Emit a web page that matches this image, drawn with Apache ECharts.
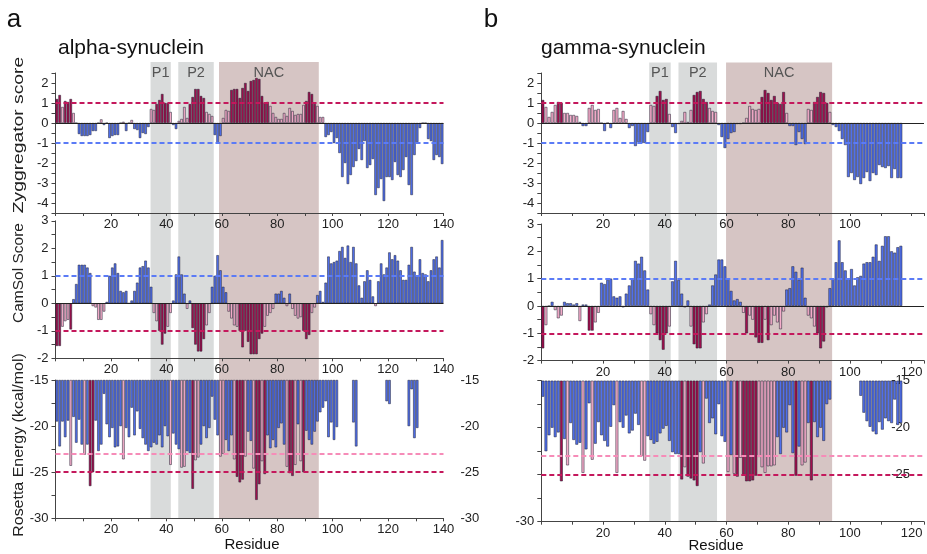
<!DOCTYPE html>
<html><head><meta charset="utf-8">
<script src="https://cdn.jsdelivr.net/npm/echarts@6/dist/echarts.min.js"></script>
<style>html,body{margin:0;padding:0;background:#fff}#c{width:927px;height:554px}</style>
</head><body><div id="c"></div>
<script>
// ---------------- data ----------------
const alphaZyg = [
 1.2,1.4,0.8,1.1,1.05,1.2,0.5,0.0,
 -0.55,-0.65,-0.65,-0.65,-0.6,-0.4,-0.4,0.0,
 0.18,-0.1,0.0,-0.75,-0.65,-0.6,-0.6,0.0,
 0.06,-0.4,0.0,0.15,-0.3,-0.35,-0.75,-0.5,
 -0.55,-0.2,
 0.7,0.65,0.95,1.15,1.45,1.0,1.0,0.55,
 -0.1,-0.3,
 0.1,0.2,0.8,0.25,0.95,1.3,1.7,1.7,1.35,1.25,0.55,0.45,0.35,
 -0.6,-1.0,-0.65,
 0.25,0.65,0.6,
 1.65,1.7,1.7,1.25,1.75,2.0,1.6,2.1,2.15,2.25,2.2,1.35,1.0,1.05,0.85,0.5,0.3,0.2,0.2,0.5,0.35,0.75,0.6,0.4,0.45,0.45,0.9,1.1,1.55,1.45,0.95,0.85,
 0.3,0.3,
 -0.7,-0.6,-0.45,-1.0,-0.75,-1.5,-2.7,-2.0,-3.05,-2.6,-2.2,-1.9,-1.3,-1.85,-0.9,-2.25,-2.1,-1.8,-3.6,-3.25,-2.8,-3.9,-2.7,-2.7,-2.85,-1.95,-2.6,-2.7,-2.35,-1.7,-3.1,-3.6,-1.6,-0.95,-0.25,0,0,-0.8,-0.9,-1.85,-1.6,-1.7,-2.05
];
const alphaCam = [
 -1.55,-1.55,-0.85,-0.65,-0.6,-0.95,
 0.15,0.7,1.4,1.4,1.4,1.3,1.1,
 -0.1,-0.15,-0.6,-0.6,-0.3,0.05,
 1.0,1.3,1.45,1.1,
 0.45,0.4,0.45,
 0.0,
 0.1,0.45,0.75,1.3,1.35,1.55,1.3,0.6,
 -0.35,-0.65,-1.0,-1.5,-1.1,-0.85,-0.35,
 0.1,1.05,1.7,1.05,0.35,
 -0.2,0.1,
 -0.9,-1.5,-1.75,-1.75,-1.3,-0.8,-0.35,
 0.6,1.0,1.75,1.2,0.6,0.4,
 -0.3,
 -0.55,-0.8,-0.85,-1.0,-1.6,-1.0,-1.4,-1.85,-1.85,-1.85,-1.3,-1.1,-0.85,-0.45,-0.35,-0.2,
 0.35,0.35,0.45,0.2,
 -0.1,0.35,
 -0.2,-0.45,-0.55,-0.5,-1.0,-1.3,-1.15,-0.35,-0.15,
 0.3,0.45,0.05,
 0.75,1.7,1.45,1.5,1.55,1.9,2.05,1.65,2.1,1.5,2.05,1.45,0.65,0.2,0.8,1.2,0.85,0.25,-0.1,0.8,1.45,1.05,1.3,1.85,1.6,1.75,1.55,1.2,0.85,0.85,1.4,2.05,1.15,1.0,1.6,1.1,1.05,0.8,1.2,1.6,1.7,1.3,2.3
];
const alphaRos = [
 -19.5,-22.2,-19.5,-21.2,-19.4,-24.3,-19.0,-21.8,-19.3,-22.0,
 -23.1,-22.0,-26.5,-25.0,-19.4,-22.7,-22.0,-16.5,-19.8,-21.2,
 -20.2,-22.3,-22.2,-20.0,-23.6,-20.2,-21.2,-18.0,-21.0,-18.4,
 -20.3,-21.3,-22.0,-22.7,-22.3,-21.8,-22.0,-21.0,-22.3,-20.0,
 -21.1,-24.2,-20.8,-22.0,-22.5,-24.5,-24.4,-22.7,-22.9,-26.8,
 -23.7,-23.4,-22.0,-20.0,-21.3,-20.2,-16.8,-19.3,-21.0,-23.3,
 -23.0,-21.5,-22.7,-21.0,-23.6,-25.5,-26.1,-25.8,-23.3,-20.6,
 -21.6,-24.6,-28.0,-26.3,-23.8,-25.2,-21.0,-22.4,-21.5,-22.3,
 -20.2,-19.7,-22.0,-24.4,-25.1,-25.4,-24.2,-19.8,-23.8,-25.0,
 -20.5,-21.5,-22.0,-20.6,-19.5,-18.5,-18.0,-17.3,-21.2,-19.6,
 -21.5,-20.1,null,null,null,null,null,-19.6,-22.2,null,
 null,null,null,null,null,null,null,null,null,-17.3,
 -17.6,null,null,null,null,null,null,-20.0,-16.0,-21.3,
 -20.2,null,null,null,null,null,null,null,null,null
];
const gammaZyg = [
 1.15,0.8,0.3,0.55,0.9,1.05,1.0,0.5,0.5,0.4,0.4,0.35,
 0.05,-0.15,-0.15,
 0.75,0.9,0.65,0.7,
 0.0,-0.4,0.0,-0.25,
 0.65,0.75,0.25,0.6,0.2,
 -0.25,-0.15,-1.15,-0.95,-1.0,-1.0,-0.45,
 0.9,0.85,1.35,1.6,1.15,1.2,0.45,
 -0.2,-0.5,
 -0.05,0.1,0.55,0.05,0.65,1.4,1.55,1.6,1.2,1.05,0.75,0.6,0.55,
 -0.1,-0.7,-1.25,-0.8,-0.5,-0.45,-0.05,
 -0.05,0.0,
 0.25,0.85,0.7,0.65,0.7,
 1.3,1.65,1.5,1.15,1.35,1.0,0.95,1.55,0.5,
 -0.15,-0.15,-1.1,-0.45,-0.8,-1.05,
 0.7,0.65,1.05,1.3,1.55,1.5,1.0,0.55,
 -0.1,-0.2,-0.4,-0.8,-1.1,-2.7,-2.5,-2.85,-2.7,-3.05,-2.75,-2.45,-2.9,-2.5,-2.6,-2.1,-2.2,-2.25,-2.15,-2.75,-2.3,-2.75,-2.75
];
const gammaCam = [
 -1.55,-0.7,0.0,0.15,-0.15,-0.45,-0.35,0.15,0.1,0.1,0.05,0.1,-0.55,0.05,0.05,-0.9,-0.9,-0.6,-0.25,
 0.85,0.8,0.95,1.0,
 0.35,0.3,0.35,
 -0.05,
 0.45,0.75,1.0,1.65,1.55,1.8,1.3,0.6,
 -0.3,-0.7,-1.0,-1.25,-1.6,-1.0,-0.75,
 0.9,1.65,0.95,0.45,
 -0.05,0.2,
 -0.75,-1.4,-1.55,-1.55,-0.6,-0.3,
 0.05,0.75,1.15,1.7,1.7,1.45,1.0,0.55,0.2,0.25,0.15,
 -0.25,-1.0,-0.35,-0.5,-1.15,-1.35,-1.35,-0.5,-1.25,-0.7,-0.35,-0.6,-0.85,-0.2,
 0.6,0.65,1.45,1.25,0.95,1.4,0.3,
 -0.35,-0.45,-0.75,-1.0,-1.55,-1.3,-0.05,
 0.65,1.0,1.6,2.4,1.6,1.3,1.0,1.35,0.75,1.05,1.1,1.55,1.6,1.6,1.8,2.25,1.65,2.2,2.55,2.55,2.0,1.95,2.15,2.2
];
const gammaRos = [
 -16.7,-22.5,-20.8,-20.0,-21.0,-20.5,-25.7,-21.2,-24.0,-19.5,
 -21.3,-21.8,-21.6,-24.8,-22.3,-17.4,-23.4,-21.7,-19.4,-20.8,
 -21.4,-22.0,-19.9,-17.6,-24.8,-19.4,-20.0,-18.7,-20.6,-20.3,
 -18.5,-19.7,-23.0,-23.5,-20.9,-21.3,-21.7,-21.5,-20.6,-20.1,
 -19.8,-21.4,-22.6,-22.8,-22.8,-25.5,-24.2,-25.2,-25.4,-25.6,
 -26.2,-22.6,-23.8,
 -16.9,-19.5,-19.0,-20.7,-17.5,-20.9,-21.5,-24.7,-22.9,-24.9,
 -25.2,-23.2,-25.0,-25.7,-25.7,-25.6,-25.1,-23.1,-24.2,-24.8,
 -24.1,-24.1,-24.0,
 -21.0,-22.8,-20.0,-20.5,-17.6,-22.7,-25.1,-22.0,-24.0,-23.7,
 -19.5,-25.6,-19.4,-21.0,-20.0,-21.4,-17.5,-17.0,
 null,null,null,null,null,null,null,null,null,
 -16.6,-18.4,-19.3,-19.9,-20.4,-20.7,-19.4,-20.2,-19.0,-19.3,-19.5,-17.0,-19.7,-19.5
];
// residue spans of the shaded regions
const alphaRegions = [['P1',34.3,41.6],['P2',44.3,57.1],['NAC',59.0,95.0]];
const gammaRegions = [['P1',34.7,41.6],['P2',44.1,56.5],['NAC',59.4,93.5]];
const alphaAxisMax = 140, gammaAxisMax = 124;
const zygThresholds = [1, -1], camThresholds = [1, -1], rosThresholds = [-23, -25];

// ---------------- styling ----------------
const FONT = '"Liberation Sans", Arial, sans-serif';
const BLUE = '#5070ec', DARK = '#a10f4d', PINK = '#f5adca', EDGE = '#1e1e30';
const L_RED = '#c4185c', L_BLUE = '#5b7bf6', L_PINK = '#f68cb8';
const GRAY_SHADE = '#d9dbdb', NAC_SHADE = '#d6c5c4';

const zygColor = v => v < 0 ? BLUE : (v >= 0.95 ? DARK : PINK);
const camColor = v => v >= 0 ? BLUE : (v <= -0.9 ? DARK : PINK);
const rosColor = v => v > -23 ? BLUE : (v > -25 ? PINK : DARK);

function pad(arr, n){ const a = arr.slice(); while (a.length < n) a.push(null); return a; }
function cats(n){ const a=[]; for(let i=1;i<=n;i++) a.push(String(i)); return a; }
const isInt = v => Math.abs(v - Math.round(v)) < 1e-9;
const isFive = v => Math.abs(v/5 - Math.round(v/5)) < 1e-9;

const grids=[], xAxes=[], yAxes=[], series=[];
const lbl = {fontSize:13, color:'#222', fontFamily:FONT};

function bgPanel(left,width,top,height,max,regions){
  const gi = grids.length;
  grids.push({left,width,top,height});
  const xi = xAxes.length;
  xAxes.push({type:'value', gridIndex:gi, min:0, max:max, show:false});
  const yi = yAxes.length;
  yAxes.push({type:'value', gridIndex:gi, min:0, max:1, show:false});
  series.push({type:'line', xAxisIndex:xi, yAxisIndex:yi, data:[[0,0]], showSymbol:false, silent:true, z:0,
    lineStyle:{width:0, opacity:0},
    markArea:{silent:true, z:0, data: regions.map(r => [
      {xAxis:r[1], name:r[0], itemStyle:{color: r[0]==='NAC'?NAC_SHADE:GRAY_SHADE, opacity:1}, label:{show:true, position:'insideTop', distance:3, color:'#555', fontSize:14.5, fontFamily:FONT}},
      {xAxis:r[2]}])}});
}

function panel(o){
  const gi = grids.length;
  grids.push({left:o.left, width:o.width, top:o.top, height:o.height});
  const xv = xAxes.length;
  xAxes.push({type:'value', gridIndex:gi, min:0, max:o.max, interval:10, position:'bottom',
    axisLine:{onZero:false, lineStyle:{color:'#444', width:1}}, axisTick:{length:3, lineStyle:{color:'#444'}},
    splitLine:{show:false},
    axisLabel:Object.assign({margin:5, formatter: v => (v>0 && v%20===0 && v<=o.xLabelMax) ? String(v) : ''}, lbl)});
  const xc = xAxes.length;
  xAxes.push({type:'category', gridIndex:gi, data:cats(o.max), show:false, boundaryGap:true});
  const yi = yAxes.length;
  const y = {type:'value', gridIndex:gi, min:o.ymin, max:o.ymax, interval:o.yint, position:'left',
    axisLine:{show:true, onZero:false, lineStyle:{color:'#444', width:1}}, axisTick:{show:true, length:4, lineStyle:{color:'#444'}},
    splitLine:{show:false},
    axisLabel:Object.assign({margin:7, formatter:o.yfmt}, lbl)};
  if (o.startValue !== undefined) y.startValue = o.startValue;
  yAxes.push(y);
  if (o.right) {
    const r = {type:'value', gridIndex:gi, min:o.ymin, max:o.ymax, interval:o.yint, position:'right',
      axisLine:{show:false}, axisTick:{show:false}, splitLine:{show:false},
      axisLabel:Object.assign({margin:o.right.margin, inside:o.right.inside, formatter:o.right.fmt}, lbl)};
    if (o.startValue !== undefined) r.startValue = o.startValue;
    yAxes.push(r);
  }
  const lines = o.lines.map(l => ({yAxis:l[0], lineStyle:{color:l[1], type:l[2]==='solid'?'solid':[5,3], width:l[2]==='solid'?1:1.8}}));
  series.push({type:'bar', xAxisIndex:xc, yAxisIndex:yi, data:pad(o.data, o.max), barCategoryGap:'10%', clip:true, z:3,
    itemStyle:{color: p => (p.value==null ? BLUE : o.color(p.value)), borderColor:EDGE, borderWidth:0.5},
    markLine:{silent:true, symbol:['none','none'], label:{show:false}, z:4, data:lines}});
}

// alpha column
const AL = 55.5, AW = 388;
bgPanel(AL, AW, 62, 456.3, alphaAxisMax, alphaRegions);
panel({left:AL, width:AW, top:73, height:140, max:alphaAxisMax, xLabelMax:140, ymin:-4.5, ymax:2.5, yint:0.5,
  yfmt: v => isInt(v) ? String(v) : '', data:alphaZyg, color:zygColor,
  lines:[[0,'#222','solid'],[zygThresholds[0],L_RED],[zygThresholds[1],L_BLUE]]});
panel({left:AL, width:AW, top:220.8, height:137.5, max:alphaAxisMax, xLabelMax:140, ymin:-2, ymax:3, yint:0.5,
  yfmt: v => isInt(v) ? String(v) : '', data:alphaCam, color:camColor,
  lines:[[0,'#222','solid'],[camThresholds[0],L_BLUE],[camThresholds[1],L_RED]]});
panel({left:AL, width:AW, top:380, height:138.3, max:alphaAxisMax, xLabelMax:140, ymin:-30, ymax:-15, yint:2.5, startValue:-15,
  yfmt: v => isFive(v) ? String(v) : '', data:alphaRos, color:rosColor,
  right:{margin:17, inside:false, fmt: v => isFive(v) ? String(v) : ''},
  lines:[[rosThresholds[0],L_PINK],[rosThresholds[1],L_RED]]});

// gamma column
const GL = 541.3, GW = 387.7;
bgPanel(GL, GW, 62.5, 459.2, gammaAxisMax, gammaRegions);
panel({left:GL, width:GW, top:73, height:140, max:gammaAxisMax, xLabelMax:100, ymin:-4.5, ymax:2.5, yint:0.5,
  yfmt: v => isInt(v) ? String(v) : '', data:gammaZyg, color:zygColor,
  lines:[[0,'#222','solid'],[zygThresholds[0],L_RED],[zygThresholds[1],L_BLUE]]});
panel({left:GL, width:GW, top:224, height:136.6, max:gammaAxisMax, xLabelMax:120, ymin:-2, ymax:3, yint:0.5,
  yfmt: v => isInt(v) ? String(v) : '', data:gammaCam, color:camColor,
  lines:[[0,'#222','solid'],[camThresholds[0],L_BLUE],[camThresholds[1],L_RED]]});
panel({left:GL, width:GW, top:380.7, height:141, max:gammaAxisMax, xLabelMax:120, ymin:-30, ymax:-15, yint:2.5, startValue:-15,
  yfmt: v => (v === -30 ? '-30' : ''), data:gammaRos, color:rosColor,
  right:{margin:14, inside:true, fmt: v => (isFive(v) && v > -30) ? String(v) : ''},
  lines:[[rosThresholds[0],L_PINK],[rosThresholds[1],L_RED]]});

const txt = (x,y,text,size,align) => ({type:'text', x, y, z:10, silent:true,
  style:{text, fill:'#111', font: size+'px '+FONT, textAlign:align||'center', textVerticalAlign:'middle'}});
const vtxt = (x,y,text,size,stretch) => ({type:'text', x, y, z:10, silent:true, rotation:Math.PI/2, scaleX:stretch, scaleY:1,
  style:{text, fill:'#222', font: size+'px '+FONT, textAlign:'center', textVerticalAlign:'middle'}});

const chart = echarts.init(document.getElementById('c'), null, {renderer:'canvas'});
chart.setOption({
  animation:false,
  backgroundColor:'#fff',
  grid:grids, xAxis:xAxes, yAxis:yAxes, series:series,
  graphic:[
    txt(14,20,'a',26), txt(491,20,'b',26),
    txt(58,48,'alpha-synuclein',21,'left'), txt(541,48,'gamma-synuclein',21,'left'),
    txt(252,545,'Residue',15), txt(716,546,'Residue',15),
    vtxt(19,135,'Zyggregator score',14.5,1.33),
    vtxt(19,273,'CamSol Score',15.5,1),
    vtxt(19,445,'Rosetta Energy (kcal/mol)',14.5,1.1)
  ]
});
</script></body></html>
